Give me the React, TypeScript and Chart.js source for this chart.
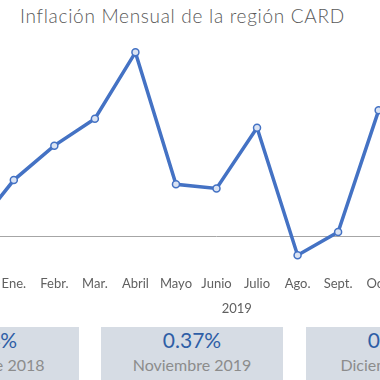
import React, { useEffect, useRef } from 'react';
import { Chart, registerables } from 'chart.js';

Chart.register(...registerables);

const chartTitle = 'Inflación Mensual de la región CARD';
const categories = ['Dic.', 'Ene.', 'Febr.', 'Mar.', 'Abril', 'Mayo', 'Junio', 'Julio', 'Ago.', 'Sept.', 'Oct.', 'Nov.', 'Dic.'];
const inflation: (number | null)[] = [0.017, 0.186, 0.3, 0.389, 0.609, 0.172, 0.158, 0.359, -0.063, 0.014, 0.417, 0.37, null];
const yearLabels = ['2018', '2019'];
const yearStart = [0, 1];
const yearEnd = [0, 12];
const summaryValues = ['0.64%', '0.37%', '0.47%'];
const summaryLabels = ['Diciembre 2018', 'Noviembre 2019', 'Diciembre 2019'];

const FONT = 'Lato, "Open Sans", sans-serif';
const TEXT_GRAY = '#606060';

const zeroLinePlugin = {
  id: 'zeroLine',
  beforeDatasetsDraw(chart: any) {
    const ctx = chart.ctx;
    const y = Math.round(chart.scales.y.getPixelForValue(0)) + 0.5;
    ctx.save();
    ctx.strokeStyle = '#a6a6a6';
    ctx.lineWidth = 1;
    ctx.beginPath();
    ctx.moveTo(0, y);
    ctx.lineTo(chart.width, y);
    ctx.stroke();
    ctx.restore();
  },
};

const yearGroupPlugin = {
  id: 'yearGroups',
  afterDraw(chart: any) {
    const ctx = chart.ctx;
    const xs = chart.scales.x;
    ctx.save();
    ctx.fillStyle = TEXT_GRAY;
    ctx.font = `13px ${FONT}`;
    ctx.textAlign = 'center';
    ctx.textBaseline = 'middle';
    const y = chart.chartArea.bottom + 36;
    yearLabels.forEach((lab, i) => {
      const x = (xs.getPixelForValue(yearStart[i]) + xs.getPixelForValue(yearEnd[i])) / 2;
      ctx.fillText(lab, x, y);
    });
    ctx.restore();
  },
};

function LineChart() {
  const ref = useRef<HTMLCanvasElement | null>(null);
  useEffect(() => {
    if (!ref.current) return;
    const chart = new Chart(ref.current, {
      type: 'line',
      data: {
        labels: categories,
        datasets: [
          {
            data: inflation,
            borderColor: '#4472c4',
            borderWidth: 3.5,
            backgroundColor: '#dae3f3',
            pointBackgroundColor: '#dae3f3',
            pointBorderColor: '#4472c4',
            pointBorderWidth: 1.5,
            pointRadius: 3.5,
            tension: 0,
            fill: false,
          },
        ],
      },
      options: {
        responsive: false,
        animation: false,
        devicePixelRatio: 1,
        layout: { autoPadding: false, padding: { top: 40, bottom: 24, left: 0, right: 0 } },
        plugins: {
          legend: { display: false },
          tooltip: { enabled: false },
          title: { display: false },
        },
        scales: {
          x: {
            type: 'category',
            offset: true,
            grid: { display: false, drawTicks: false },
            border: { display: false },
            afterFit(scale: any) {
              scale.paddingLeft = 0;
              scale.paddingRight = 0;
            },
            ticks: {
              padding: 4,
              maxRotation: 0,
              autoSkip: false,
              color: TEXT_GRAY,
              font: { family: FONT, size: 13 },
            },
          },
          y: {
            display: false,
            min: -0.12,
            max: 0.65,
          },
        },
      },
      plugins: [zeroLinePlugin, yearGroupPlugin],
    });
    return () => chart.destroy();
  }, []);
  return (
    <canvas
      ref={ref}
      width={527}
      height={320}
      style={{ position: 'absolute', left: -47, top: 0, width: 527, height: 320 }}
    />
  );
}

export default function App() {
  const boxLefts = [-103, 101, 306];
  return (
    <div
      style={{
        position: 'fixed',
        left: 0,
        top: 0,
        width: 380,
        height: 380,
        overflow: 'hidden',
        background: '#ffffff',
        fontFamily: FONT,
      }}
    >
      <div
        style={{
          position: 'absolute',
          left: 20,
          top: 5,
          fontSize: 19,
          lineHeight: '22px',
          letterSpacing: '0.7px',
          fontWeight: 300,
          color: '#595959',
          whiteSpace: 'nowrap',
        }}
      >
        {chartTitle}
      </div>
      <LineChart />
      {summaryValues.map((v, i) => (
        <div
          key={i}
          style={{
            position: 'absolute',
            left: boxLefts[i],
            top: 327,
            width: 182,
            height: 60,
            background: '#d6dce4',
          }}
        >
          <div
            style={{
              position: 'absolute',
              left: 0,
              width: 182,
              top: 1,
              textAlign: 'center',
              fontSize: 21,
              lineHeight: '24px',
              color: '#2e5ea6',
              whiteSpace: 'nowrap',
            }}
          >
            {v}
          </div>
          <div
            style={{
              position: 'absolute',
              left: 0,
              width: 182,
              top: 28,
              textAlign: 'center',
              fontSize: 16,
              lineHeight: '20px',
              color: '#8c8c8c',
              whiteSpace: 'nowrap',
            }}
          >
            {summaryLabels[i]}
          </div>
        </div>
      ))}
    </div>
  );
}
